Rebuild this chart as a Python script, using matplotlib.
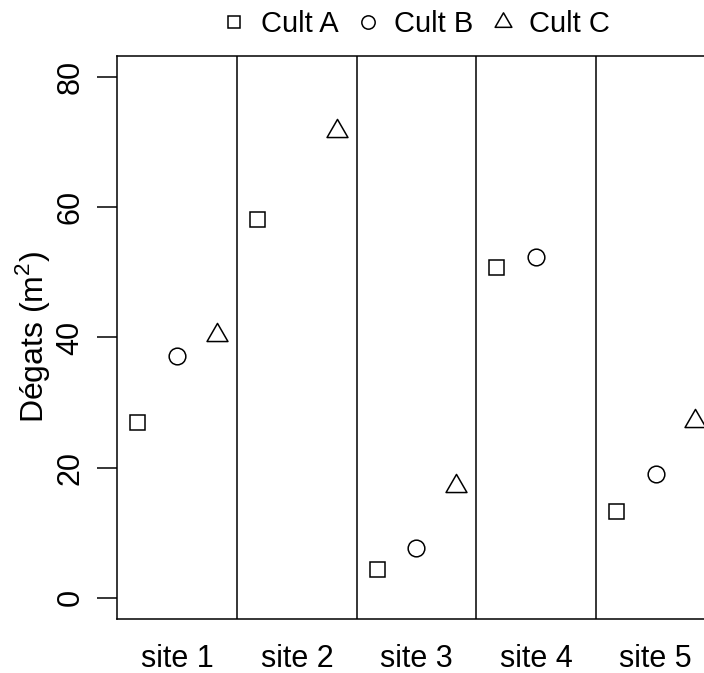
import matplotlib.pyplot as plt
from matplotlib.path import Path

plt.rcParams['font.family'] = ['Liberation Sans', 'DejaVu Sans']

sites = ['site 1', 'site 2', 'site 3', 'site 4', 'site 5']
nan = float('nan')
cult_a = [27.0, 58.2, 4.4, 50.9, 13.3]
cult_b = [37.2, nan, 7.6, 52.3, 19.0]
cult_c = [40.4, 71.8, 17.1, nan, 27.1]
series = ['Cult A', 'Cult B', 'Cult C']
y_ticks = [0, 20, 40, 60, 80]

# R-like equilateral triangle (pch = 2), centred on its centroid
tri = Path([(0, 1.5551), (1.3468, -0.7776), (-1.3468, -0.7776), (0, 1.5551)], closed=True)
markers = ['s', 'o', tri]
sizes = [10.8, 12.0, 17.4]
offsets = [-1 / 3, 0, 1 / 3]

fig = plt.figure(figsize=(7.04, 6.73), dpi=100)
ax = fig.add_axes([0.1669, 0.0807, 0.8493, 0.8361])

pos = range(1, len(sites) + 1)
for vals, name, m, ms, off in zip([cult_a, cult_b, cult_c], series, markers, sizes, offsets):
    ax.plot([p + off for p in pos], vals, ls='none', marker=m, ms=ms,
            mfc='none', mec='black', mew=1.1, label=name, clip_on=False)

for p in pos[:-1]:
    ax.axvline(p + 0.5, color='black', lw=1.1)

ax.set_xlim(0.5, len(sites) + 0.5)
ax.set_ylim(-3.23, 83.27)
ax.set_xticks(list(pos))
ax.set_xticklabels(sites)
ax.set_yticks(y_ticks)
ax.tick_params(axis='x', length=0, pad=18, labelsize=22)
ax.tick_params(axis='y', length=14.4, width=1.1, pad=8.5, labelsize=22)
plt.setp(ax.get_yticklabels(), rotation=90, va='center')
for s in ax.spines.values():
    s.set_linewidth(1.1)

ax.set_ylabel('Dégats (m$^\\mathregular{2}$)', fontsize=23, labelpad=3)

ax.legend(loc='center', bbox_to_anchor=(0.5, 1.057), ncol=3, frameon=False,
          fontsize=21, markerscale=0.8, handlelength=0.8, handletextpad=0.5,
          columnspacing=0.62, borderpad=0)

fig.savefig('out.png', dpi=100)
